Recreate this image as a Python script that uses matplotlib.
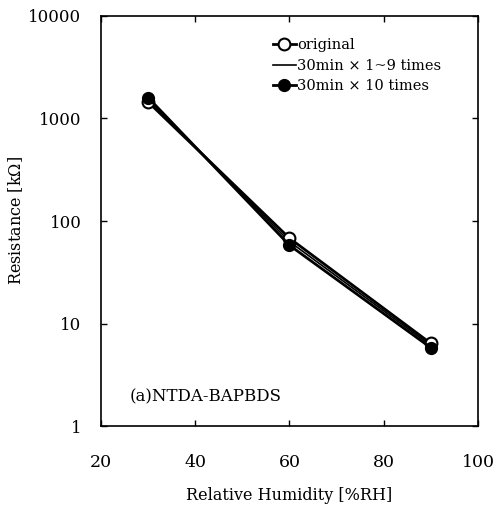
import matplotlib.pyplot as plt
import numpy as np

# relative humidity [%RH] and resistance [kOhm]
humidity = [30, 60, 90]
res_original = [1450, 68, 6.4]
res_1to9 = [1520, 63, 6.1]
res_10times = [1600, 58, 5.8]

x_ticks = [20, 40, 60, 80, 100]
y_ticks = [1, 10, 100, 1000, 10000]

plt.rcParams['font.family'] = ['DejaVu Serif']
plt.rcParams['mathtext.fontset'] = 'dejavuserif'

fig = plt.figure(figsize=(4.96, 5.09), dpi=100)
ax = fig.add_axes([0.2036, 0.163, 0.760, 0.8056])

ax.plot(humidity, res_1to9, color='black', lw=1.2, label='30min × 1~9 times')
ax.plot(humidity, res_original, color='black', lw=2.0, marker='o', ms=8.5,
        mfc='white', mec='black', mew=1.5, label='original')
ax.plot(humidity, res_10times, color='black', lw=2.0, marker='o', ms=8.5,
        mfc='black', mec='black', label='30min × 10 times')

ax.set_yscale('log')
ax.set_xlim(20, 100)
ax.set_ylim(1, 10000)
ax.set_xticks(x_ticks)
ax.set_yticks(y_ticks)
ax.set_xticklabels([str(v) for v in x_ticks], fontsize=12.5)
ax.set_yticklabels([str(v) for v in y_ticks], fontsize=12)
ax.minorticks_off()
ax.tick_params(direction='in', length=4, width=1, top=True, right=True)
ax.tick_params(axis='x', pad=20)
ax.tick_params(axis='y', pad=14)
for s in ax.spines.values():
    s.set_linewidth(1.2)

ax.set_xlabel('Relative Humidity [%RH]', fontsize=11.5, labelpad=12)
ax.set_ylabel('Resistance [k$\\Omega$]', fontsize=11.5)
ax.yaxis.set_label_coords(-0.2, 0.5)

ax.text(0.075, 0.06, '(a)NTDA-BAPBDS', transform=ax.transAxes, fontsize=12)

h, l = ax.get_legend_handles_labels()
order = [1, 0, 2]
ax.legend([h[i] for i in order], [l[i] for i in order], loc='upper left',
          bbox_to_anchor=(0.44, 0.96), frameon=False, fontsize=10.5,
          handlelength=1.6, handletextpad=0.1, labelspacing=0.45, borderaxespad=0)

fig.savefig('out.png', dpi=100)
